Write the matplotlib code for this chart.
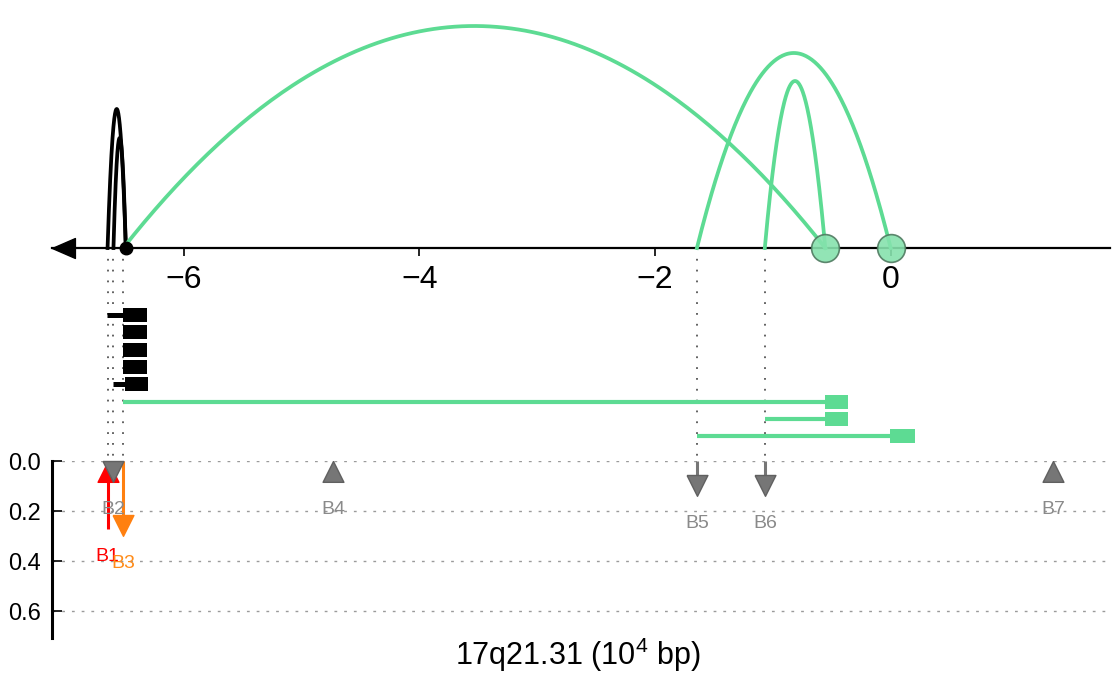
import numpy as np
import matplotlib
matplotlib.use('Agg')
import matplotlib.pyplot as plt
from matplotlib.path import Path

plt.rcParams['font.family'] = ['Liberation Sans', 'DejaVu Sans']
plt.rcParams['mathtext.fontset'] = 'custom'
plt.rcParams['mathtext.rm'] = 'Liberation Sans'
plt.rcParams['mathtext.it'] = 'Liberation Sans:italic'

GREEN = '#5ddb93'

# Breakpoints (10^4 bp) and arrows in the lower track
bp_names = ['B1', 'B2', 'B3', 'B4', 'B5', 'B6', 'B7']
bp_pos = [-6.645, -6.595, -6.512, -4.733, -1.644, -1.068, 1.377]
bp_len = [0.27, 0.0, 0.215, 0.0, 0.055, 0.055, 0.0]
bp_dir = ['up', 'down', 'down', 'up', 'down', 'down', 'up']
bp_colors = ['#ff0000', '#767676', '#ff8010', '#767676', '#767676', '#767676', '#767676']
bp_label_colors = ['#ff0000', '#8a8a8a', '#ff8c1a', '#8a8a8a', '#8a8a8a', '#8a8a8a', '#8a8a8a']

# Arcs above the axis: start, end, height
arc_start = [-6.645, -6.595, -6.512, -1.644, -1.068]
arc_end = [-6.49, -6.49, -0.555, 0.0, -0.555]
arc_height = [139, 110, 222, 195, 167]
arc_colors = ['black', 'black', GREEN, GREEN, GREEN]

# Anchor points on the axis
anchor_pos = [-0.555, 0.0]
black_anchor = -6.49

# Feature rows under the axis
row_line_start = [-6.65, None, None, None, -6.60, -6.512, -1.068, -1.644]
row_box_start = [-6.512, -6.517, -6.517, -6.517, -6.497, -0.556, -0.556, -0.006]
row_box_end = [-6.313, -6.31, -6.31, -6.31, -6.302, -0.361, -0.361, 0.205]
row_colors = ['black'] * 5 + [GREEN] * 3

xticks = [-6, -4, -2, 0]
yticks = [0.0, 0.2, 0.4, 0.6]

fig = plt.figure(figsize=(11.12, 6.73), dpi=100)
W, H = 1112, 673
x_left, x_right = 51.7, 1110
xlim = (-7.119, 1.861)

# top axes: y in pixel-like units, axis baseline at 0
ax = fig.add_axes([x_left / W, (H - 461) / H, (x_right - x_left) / W, 461 / H])
ax.set_xlim(*xlim)
ax.set_ylim(-213, 248)
for s in ['top', 'right', 'left']:
    ax.spines[s].set_visible(False)
ax.spines['bottom'].set_position(('data', 0))
ax.spines['bottom'].set_linewidth(1.6)
ax.set_yticks([])
ax.set_xticks(xticks)
ax.set_xticklabels([f'\u2212{abs(t)}' if t < 0 else str(t) for t in xticks])
ax.tick_params(axis='x', direction='out', length=6, width=1.2, labelsize=23, pad=6)
ax.patch.set_alpha(0)

# arrow head at left end of axis
left_head = Path([(0, 0), (2.3, 1), (2.3, -1), (0, 0)])
ax.plot([xlim[0]], [0], marker=left_head, ms=33, color='black', clip_on=False, zorder=6)

# arcs
t = np.linspace(0, 1, 200)
for x0, x1, h, c in zip(arc_start, arc_end, arc_height, arc_colors):
    ax.plot(x0 + t * (x1 - x0), h * 4 * t * (1 - t), color=c, lw=2.7, zorder=3)

ax.plot(anchor_pos, [0] * len(anchor_pos), 'o', ms=20, mfc='#86e2ad', mec='#4f7a60',
        mew=1.2, alpha=0.9, zorder=5, clip_on=False)
ax.plot([black_anchor], [0], 'o', ms=9, color='black', zorder=6)

# dotted guide lines from arcs down to the lower track
for p in arc_start:
    ax.plot([p, p], [0, -213], color='#555555', lw=1.3, ls=(0, (1, 5)), zorder=1, clip_on=False)

# feature rows
row0, row_step, box_h = -67, 17.3, 14
for i, (ls_, bs, be, c) in enumerate(zip(row_line_start, row_box_start, row_box_end, row_colors)):
    y = row0 - i * row_step
    if ls_ is not None:
        ax.plot([ls_, bs], [y, y], color=c, lw=3.6 if c == 'black' else 3.0,
                solid_capstyle='butt', zorder=3)
    ax.barh(y, be - bs, left=bs, height=box_h, color=c, zorder=4)

# bottom track
bot_h = 177
ax2 = fig.add_axes([x_left / W, (H - 638) / H, (x_right - x_left) / W, bot_h / H])
ax2.set_xlim(*xlim)
ax2.set_ylim(0.708, 0.0)
for s in ['top', 'right', 'bottom']:
    ax2.spines[s].set_visible(False)
ax2.spines['left'].set_linewidth(2.2)
ax2.set_xticks([])
ax2.set_yticks(yticks)
ax2.set_yticklabels([f'{v:.1f}' for v in yticks])
ax2.tick_params(axis='y', direction='in', length=7, width=1.2, labelsize=17, pad=8)
for v in yticks:
    ax2.axhline(v, color='#9a9a9a', lw=1, ls=(0, (2, 5)), zorder=0)
ax2.patch.set_alpha(0)

per_px = 0.708 / bot_h
head_px = 20.8
head = head_px * per_px
gap = 28 * per_px
down_head = Path([(-1, 0), (1, 0), (0, -2), (-1, 0)])
up_head = Path([(0, 0), (-1, -2), (1, -2), (0, 0)])

for name, x, L, d, c, lc in zip(bp_names, bp_pos, bp_len, bp_dir, bp_colors, bp_label_colors):
    ec = '#606060' if c == '#767676' else c
    if d == 'down':
        if L > 0:
            ax2.plot([x, x], [0, L], color=c, lw=2.2, solid_capstyle='butt', zorder=3)
        ax2.plot([x], [L], marker=down_head, ms=30, mfc=c, mec=ec, mew=1.0,
                 zorder=4, clip_on=False)
        low = L + head
    else:
        if L > 0:
            ax2.plot([x, x], [L, 0.02], color=c, lw=2.2, solid_capstyle='butt', zorder=3)
        ax2.plot([x], [0.0], marker=up_head, ms=30, mfc=c, mec=ec, mew=1.0,
                 zorder=4, clip_on=False)
        low = max(L, head)
    ax2.text(x, low + gap, name, color=lc, fontsize=14, ha='center', va='center', zorder=5)

fig.text(577.5 / W, 1 - 655 / H, r'17q21.31 (10$^{4}$ bp)', fontsize=22,
         ha='center', va='center')

plt.savefig('out.png', dpi=100)
